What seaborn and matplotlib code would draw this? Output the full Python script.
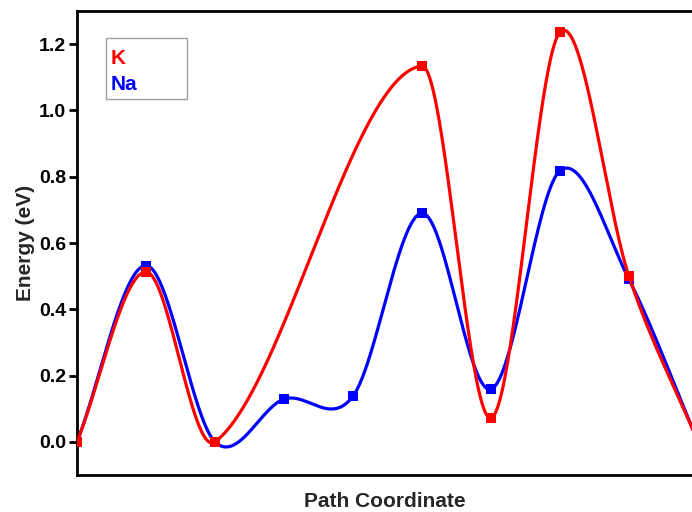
import numpy as np
import pandas as pd
import matplotlib
matplotlib.use("Agg")
import matplotlib.pyplot as plt
import seaborn as sns
from matplotlib.lines import Line2D

# ---- data ----
k_index = [0, 1, 2, 5, 6, 7, 8, 9]
k_energy = [0.00, 0.513, 0.00, 1.134, 0.072, 1.236, 0.499, 0.00]
na_index = [0, 1, 2, 3, 4, 5, 6, 7, 8, 9]
na_energy = [0.00, 0.532, 0.00, 0.129, 0.138, 0.690, 0.159, 0.818, 0.490, 0.00]
y_ticks = [0.0, 0.2, 0.4, 0.6, 0.8, 1.0, 1.2]


def smooth_curve(x, y, per_seg=80):
    """Cardinal (Catmull-Rom) Hermite spline through the data points."""
    x = np.asarray(x, float)
    y = np.asarray(y, float)
    n = len(x)
    m = np.zeros(n)
    m[0] = (y[1] - y[0]) / (x[1] - x[0])
    m[-1] = (y[-1] - y[-2]) / (x[-1] - x[-2])
    for i in range(1, n - 1):
        m[i] = (y[i + 1] - y[i - 1]) / (x[i + 1] - x[i - 1])
    xs_all, ys_all = [], []
    for i in range(n - 1):
        h = x[i + 1] - x[i]
        t = np.linspace(0, 1, per_seg, endpoint=(i == n - 2))
        h00 = 2 * t**3 - 3 * t**2 + 1
        h10 = t**3 - 2 * t**2 + t
        h01 = -2 * t**3 + 3 * t**2
        h11 = t**3 - t**2
        xs_all.append(x[i] + t * h)
        ys_all.append(h00 * y[i] + h10 * h * m[i] + h01 * y[i + 1] + h11 * h * m[i + 1])
    return np.concatenate(xs_all), np.concatenate(ys_all)


sns.set_theme(style="ticks")
plt.rcParams['font.family'] = ['Liberation Sans', 'DejaVu Sans']
plt.rcParams['font.weight'] = 'bold'
plt.rcParams['axes.labelweight'] = 'bold'

fig = plt.figure(figsize=(6.92, 5.12), dpi=100)
ax = fig.add_axes([77 / 692, 37 / 512, 615 / 692, 464 / 512])

red = '#ff0000'
blue = '#0000ff'

na_x, na_y = smooth_curve(na_index, na_energy)
k_x, k_y = smooth_curve(k_index, k_energy)

sns.lineplot(x=na_x, y=na_y, ax=ax, color=blue, linewidth=2.3, sort=False, zorder=2)
sns.scatterplot(x=na_index, y=na_energy, ax=ax, color=blue, marker='s', s=55,
                linewidth=0, zorder=3)
sns.lineplot(x=k_x, y=k_y, ax=ax, color=red, linewidth=2.3, sort=False, zorder=4)
sns.scatterplot(x=k_index, y=k_energy, ax=ax, color=red, marker='s', s=55,
                linewidth=0, zorder=5)

ax.set_xlim(0, 615 / 69.0)
ax.set_ylim(-0.1, 1.3)
ax.set_xticks([])
ax.set_yticks(y_ticks)
ax.set_yticklabels([f"{v:.1f}" for v in y_ticks], fontsize=14, fontweight='bold')
ax.tick_params(axis='y', direction='out', length=6, width=2, pad=2, colors='black')
for side in ['left', 'top', 'bottom']:
    ax.spines[side].set_linewidth(2.0)
    ax.spines[side].set_color('black')
ax.spines['right'].set_visible(False)

ax.set_ylabel("Energy (eV)", fontsize=15, fontweight='bold', labelpad=3)
ax.set_xlabel("Path Coordinate", fontsize=15, fontweight='bold', labelpad=12)

handles = [Line2D([], [], color='none'), Line2D([], [], color='none')]
leg = ax.legend(handles, ['K', 'Na'], loc='upper left', mode='expand',
                bbox_to_anchor=((106 - 77) / 615, (475 - 38) / 464 - 61 / 464,
                                81 / 615, 61 / 464),
                borderaxespad=0, frameon=True, fancybox=False, framealpha=1,
                edgecolor='#a0a0a0', markerfirst=True, handlelength=0,
                handletextpad=-0.15, borderpad=0.36, labelspacing=0.375,
                prop={'size': 15, 'weight': 'bold'}, labelcolor=[red, blue])
leg.get_frame().set_linewidth(1.0)
for t in leg.get_texts():
    t.set_y(-3)

fig.savefig("out.png", dpi=100)
